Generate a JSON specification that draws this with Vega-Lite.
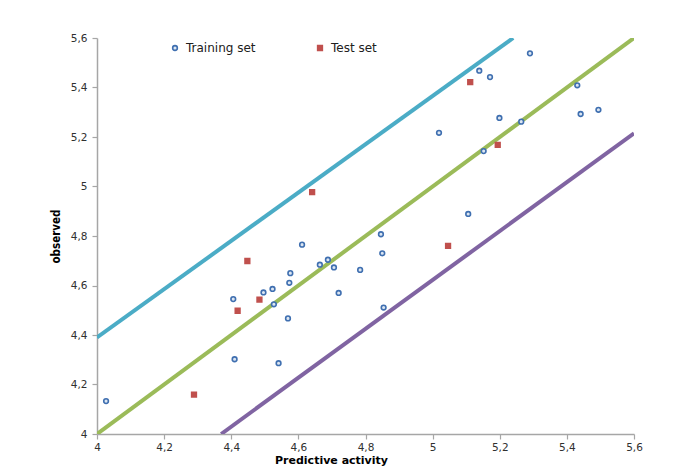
{
  "$schema": "https://vega.github.io/schema/vega-lite/v6.json",
  "width": 537,
  "height": 396,
  "autosize": "none",
  "padding": {"left": 97, "top": 38, "right": 47, "bottom": 36},
  "background": "white",
  "config": {
    "view": {"stroke": null},
    "font": "DejaVu Sans",
    "axis": {
      "domainColor": "#a6a6a6",
      "domainWidth": 1.5,
      "tickColor": "#a6a6a6",
      "tickWidth": 1.2,
      "tickSize": 5,
      "grid": false,
      "labelFont": "DejaVu Sans",
      "labelFontSize": 10.5,
      "labelColor": "#303030",
      "labelOverlap": false,
      "labelFlush": false
    }
  },
  "datasets": {
    "lines": [
      {"series": "upper", "pred": 4.0, "obs": 4.39},
      {"series": "upper", "pred": 5.24, "obs": 5.6},
      {"series": "ideal", "pred": 4.0, "obs": 4.0},
      {"series": "ideal", "pred": 5.6, "obs": 5.6},
      {"series": "lower", "pred": 4.37, "obs": 4.0},
      {"series": "lower", "pred": 5.6, "obs": 5.215}
    ],
    "points": [
      {"set": "Training set", "pred": 4.027, "obs": 4.133},
      {"set": "Training set", "pred": 4.406, "obs": 4.545},
      {"set": "Training set", "pred": 4.41, "obs": 4.302},
      {"set": "Training set", "pred": 4.496, "obs": 4.572},
      {"set": "Training set", "pred": 4.523, "obs": 4.586},
      {"set": "Training set", "pred": 4.527, "obs": 4.524},
      {"set": "Training set", "pred": 4.541, "obs": 4.286},
      {"set": "Training set", "pred": 4.569, "obs": 4.467},
      {"set": "Training set", "pred": 4.573, "obs": 4.611},
      {"set": "Training set", "pred": 4.576, "obs": 4.65},
      {"set": "Training set", "pred": 4.611, "obs": 4.765},
      {"set": "Training set", "pred": 4.664, "obs": 4.684},
      {"set": "Training set", "pred": 4.688, "obs": 4.704},
      {"set": "Training set", "pred": 4.706, "obs": 4.673},
      {"set": "Training set", "pred": 4.72, "obs": 4.57},
      {"set": "Training set", "pred": 4.784, "obs": 4.663},
      {"set": "Training set", "pred": 4.846, "obs": 4.807},
      {"set": "Training set", "pred": 4.85, "obs": 4.73},
      {"set": "Training set", "pred": 4.854, "obs": 4.511},
      {"set": "Training set", "pred": 5.29, "obs": 5.538},
      {"set": "Training set", "pred": 5.139, "obs": 5.468},
      {"set": "Training set", "pred": 5.171, "obs": 5.442},
      {"set": "Training set", "pred": 5.431, "obs": 5.409},
      {"set": "Training set", "pred": 5.199, "obs": 5.277},
      {"set": "Training set", "pred": 5.264, "obs": 5.262},
      {"set": "Training set", "pred": 5.019, "obs": 5.217},
      {"set": "Training set", "pred": 5.441, "obs": 5.293},
      {"set": "Training set", "pred": 5.494, "obs": 5.31},
      {"set": "Training set", "pred": 5.152, "obs": 5.143},
      {"set": "Training set", "pred": 5.106, "obs": 4.889},
      {"set": "Test set", "pred": 4.448, "obs": 4.699},
      {"set": "Test set", "pred": 4.419, "obs": 4.498},
      {"set": "Test set", "pred": 4.484, "obs": 4.543},
      {"set": "Test set", "pred": 4.289, "obs": 4.159},
      {"set": "Test set", "pred": 4.641, "obs": 4.977},
      {"set": "Test set", "pred": 5.112, "obs": 5.422},
      {"set": "Test set", "pred": 5.194, "obs": 5.168},
      {"set": "Test set", "pred": 5.046, "obs": 4.76}
    ]
  },
  "encoding": {
    "x": {
      "field": "pred",
      "type": "quantitative",
      "scale": {"domain": [4, 5.6], "nice": false, "zero": false},
      "axis": {
        "values": [4, 4.2, 4.4, 4.6, 4.8, 5, 5.2, 5.4, 5.6],
        "labelExpr": "replace(format(datum.value, '~g'), '.', ',')",
        "labelPadding": 3,
        "title": "Predictive activity",
        "titleFont": "DejaVu Sans",
        "titleFontSize": 11,
        "titleFontWeight": "bold",
        "titleColor": "#000000",
        "titleAnchor": "start",
        "titleAlign": "center",
        "titleX": 234,
        "titleY": 29,
        "titleBaseline": "alphabetic"
      }
    },
    "y": {
      "field": "obs",
      "type": "quantitative",
      "scale": {"domain": [4, 5.6], "nice": false, "zero": false},
      "axis": {
        "values": [4, 4.2, 4.4, 4.6, 4.8, 5, 5.2, 5.4, 5.6],
        "labelExpr": "replace(format(datum.value, '~g'), '.', ',')",
        "labelPadding": 5,
        "title": "observed",
        "titleFont": "DejaVu Sans Condensed, Liberation Sans, sans-serif",
        "titleFontSize": 11.5,
        "titleFontWeight": "bold",
        "titleColor": "#000000",
        "titlePadding": 9
      }
    }
  },
  "layer": [
    {
      "data": {"name": "lines"},
      "mark": {"type": "line", "strokeWidth": 4, "clip": true},
      "encoding": {
        "detail": {"field": "series"},
        "color": {
          "field": "series",
          "type": "nominal",
          "scale": {"domain": ["upper", "ideal", "lower"], "range": ["#4BACC6", "#9BBB59", "#8064A2"]},
          "legend": null
        }
      }
    },
    {
      "data": {"name": "points"},
      "mark": {"type": "point", "filled": true, "strokeWidth": 1.6, "opacity": 1, "size": 22},
      "encoding": {
        "shape": {
          "field": "set",
          "type": "nominal",
          "scale": {"domain": ["Training set", "Test set"], "range": ["circle", "square"]},
          "legend": {
            "title": null,
            "orient": "none",
            "legendX": 72,
            "legendY": 4,
            "direction": "horizontal",
            "labelFont": "DejaVu Sans",
            "labelFontSize": 12,
            "labelColor": "#202020",
            "labelOffset": 5,
            "columnPadding": 58,
            "symbolSize": 22,
            "symbolStrokeWidth": 1.6
          }
        },
        "fill": {
          "field": "set",
          "type": "nominal",
          "scale": {"domain": ["Training set", "Test set"], "range": ["#dce6f2", "#C0504D"]}
        },
        "stroke": {
          "field": "set",
          "type": "nominal",
          "scale": {"domain": ["Training set", "Test set"], "range": ["#3f6fb0", "#C0504D"]}
        }
      }
    }
  ],
  "resolve": {"scale": {"color": "independent"}}
}
